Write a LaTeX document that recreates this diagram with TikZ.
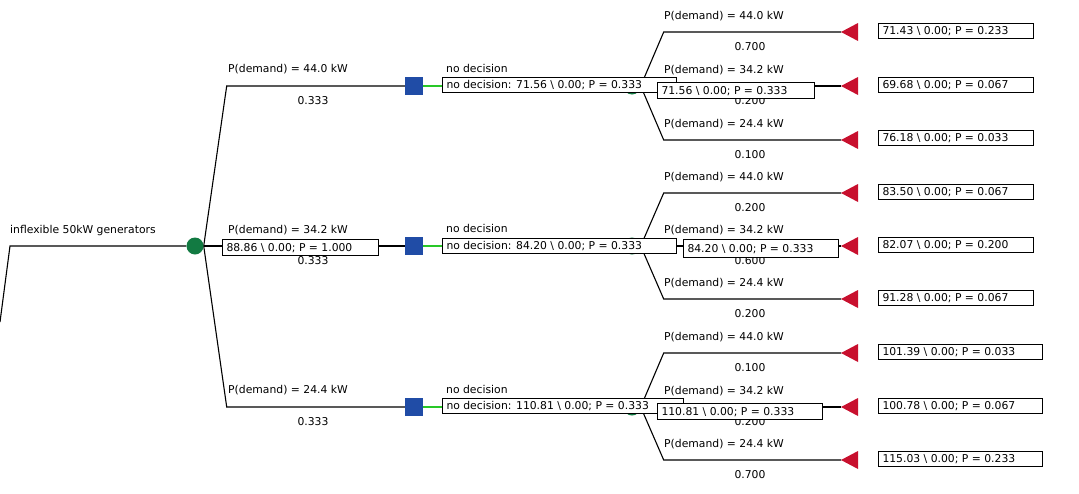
\documentclass[tikz,border=0pt]{standalone}
\usepackage{fontspec}
\setmainfont{DejaVu Sans}
\usetikzlibrary{backgrounds}
\definecolor{chancegreen}{RGB}{18,122,66}
\definecolor{decblue}{RGB}{32,76,166}
\definecolor{termred}{RGB}{200,16,46}
\definecolor{optgreen}{RGB}{40,200,40}
\newcommand{\bsl}{\textbackslash{}}
\newcommand{\vtxt}[2]{\makebox[#1][l]{#2}}

\begin{document}
\begin{tikzpicture}[x=1pt,y=-1pt,
  font=\fontsize{10.8}{12}\selectfont,
  edge/.style={line width=1.1pt, draw=black},
  optline/.style={line width=1.1pt, draw=optgreen},
  chance/.style={circle, fill=chancegreen, minimum size=17pt, inner sep=0},
  decision/.style={rectangle, fill=decblue, minimum size=18pt, inner sep=0},
  lbl/.style={anchor=base west, inner sep=0},
  prob/.style={anchor=base, inner sep=0},
  valbox/.style={draw=black, fill=white, line width=1pt, anchor=north west,
    inner xsep=4pt, inner ysep=0, text height=8pt, text depth=0.5pt, minimum height=#1},
  valbox/.default=15pt,
]
\useasboundingbox (0,0) rectangle (1079,493);

% root of the tree
\coordinate (root) at (0,322);
\coordinate (rootbend) at (10,246);
\node[lbl] (rootlbl) at (10,233) {inflexible 50kW generators};

% chance and decision nodes
\node[chance] (c0) at (195,246) {};
\node[decision] (d1) at (414,86) {};
\node[decision] (d2) at (414,246) {};
\node[decision] (d3) at (414,407) {};
\node[chance] (c1) at (632,86) {};
\node[chance] (c2) at (632,246) {};
\node[chance] (c3) at (632,407) {};

% terminal nodes
\foreach \n/\y in {t11/32, t12/86, t13/140, t21/193, t22/246, t23/299, t31/353, t32/407, t33/460} {
  \coordinate (\n) at (841,\y);
  \fill[termred] (\n) -- ++(17,-9) -- ++(0,18) -- cycle;
}

% branches
\begin{pgfonlayer}{background}
  \draw[edge] (root) -- (rootbend) -- (c0);
  \draw[edge] (c0.east) -- ++(23,-160) -- (d1);
  \draw[edge] (c0) -- (d2);
  \draw[edge] (c0.east) -- ++(23,161) -- (d3);
  \draw[optline] (d1) -- (c1);
  \draw[optline] (d2) -- (c2);
  \draw[optline] (d3) -- (c3);
  \draw[edge] (c1.east) -- ++(23,-54) -- (t11);
  \draw[edge] (c1) -- (t12);
  \draw[edge] (c1.east) -- ++(23,54) -- (t13);
  \draw[edge] (c2.east) -- ++(23,-53) -- (t21);
  \draw[edge] (c2) -- (t22);
  \draw[edge] (c2.east) -- ++(23,53) -- (t23);
  \draw[edge] (c3.east) -- ++(23,-54) -- (t31);
  \draw[edge] (c3) -- (t32);
  \draw[edge] (c3.east) -- ++(23,53) -- (t33);
\end{pgfonlayer}

% first level branch labels
\node[lbl] (b1) at (228,72) {P(demand) = 44.0 kW};
\node[prob] (p1) at (313,104) {0.333};
\node[lbl] (b2) at (228,233) {P(demand) = 34.2 kW};
\node[prob] (p2) at (313,264) {0.333};
\node[lbl] (b3) at (228,393) {P(demand) = 24.4 kW};
\node[prob] (p3) at (313,425) {0.333};

% decision labels
\node[lbl] (n1l) at (446,72) {no decision};
\node[lbl] (n2l) at (446,232) {no decision};
\node[lbl] (n3l) at (446,393) {no decision};

% second level branch labels
\foreach \n/\y/\d/\p in {
  a11/32/44.0/0.700, a12/86/34.2/0.200, a13/140/24.4/0.100,
  a21/193/44.0/0.200, a22/246/34.2/0.600, a23/299/24.4/0.200,
  a31/353/44.0/0.100, a32/407/34.2/0.200, a33/460/24.4/0.700} {
  \node[lbl] (\n) at (664,\y-13) {P(demand) = \d\ kW};
  \node[prob] (\n p) at (750,\y+18) {\p};
}

% value boxes
\node[valbox=16pt] (v0) at (222,239) {\vtxt{148pt}{88.86 \bsl\ 0.00; P = 1.000}};

\node[valbox] (n1) at (442,77) {\vtxt{226pt}{no decision: 71.56 \bsl\ 0.00; P = 0.333}};
\node[valbox=16.5pt] (s1) at (657,81.5) {\vtxt{149pt}{71.56 \bsl\ 0.00; P = 0.333}};

\node[valbox=15.5pt] (n2) at (442,237.5) {\vtxt{226pt}{no decision: 84.20 \bsl\ 0.00; P = 0.333}};
\node[valbox=18pt] (s2) at (683,239) {\vtxt{147pt}{84.20 \bsl\ 0.00; P = 0.333}};

\node[valbox] (n3) at (442,398) {\vtxt{233pt}{no decision: 110.81 \bsl\ 0.00; P = 0.333}};
\node[valbox=16pt] (s3) at (657,403) {\vtxt{157pt}{110.81 \bsl\ 0.00; P = 0.333}};

% payoff boxes
\node[valbox] (e11) at (878,23) {\vtxt{147pt}{71.43 \bsl\ 0.00; P = 0.233}};
\node[valbox] (e12) at (878,77) {\vtxt{147pt}{69.68 \bsl\ 0.00; P = 0.067}};
\node[valbox] (e13) at (878,130) {\vtxt{147pt}{76.18 \bsl\ 0.00; P = 0.033}};
\node[valbox] (e21) at (878,184) {\vtxt{147pt}{83.50 \bsl\ 0.00; P = 0.067}};
\node[valbox] (e22) at (878,237) {\vtxt{147pt}{82.07 \bsl\ 0.00; P = 0.200}};
\node[valbox] (e23) at (878,290) {\vtxt{147pt}{91.28 \bsl\ 0.00; P = 0.067}};
\node[valbox] (e31) at (878,344) {\vtxt{156pt}{101.39 \bsl\ 0.00; P = 0.033}};
\node[valbox] (e32) at (878,398) {\vtxt{156pt}{100.78 \bsl\ 0.00; P = 0.067}};
\node[valbox] (e33) at (878,451) {\vtxt{156pt}{115.03 \bsl\ 0.00; P = 0.233}};
\end{tikzpicture}
\end{document}
